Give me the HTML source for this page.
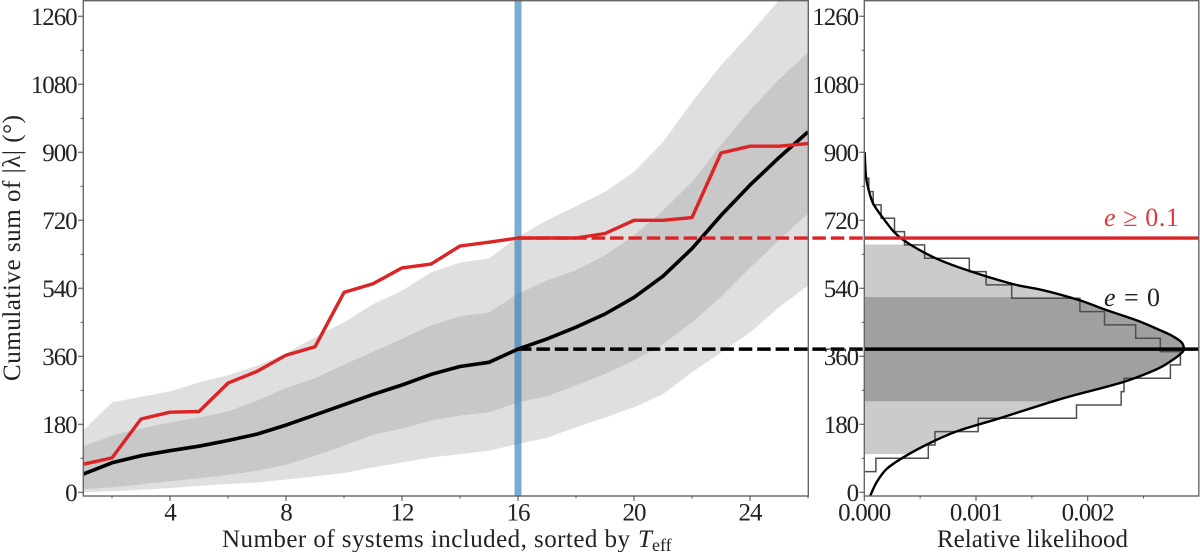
<!DOCTYPE html>
<html lang="en">
<head>
<meta charset="utf-8">
<title>Cumulative sum of lambda chart</title>
<style>
html,body{margin:0;padding:0;background:#fff;width:1200px;height:552px;overflow:hidden}
svg{display:block}
text{font-family:"Liberation Serif",serif;fill:#222}
</style>
</head>
<body>
<svg id="chart" xmlns="http://www.w3.org/2000/svg" width="1200" height="552" viewBox="0 0 1200 552">
<defs>
<clipPath id="clip-left"><rect x="83" y="1" width="725" height="495"/></clipPath>
<clipPath id="clip-right"><rect x="864" y="1" width="335" height="495"/></clipPath>
</defs>
<g id="left-marks" clip-path="url(#clip-left)"></g>
<g id="connectors"></g>
<g id="right-marks" clip-path="url(#clip-right)"></g>
<g id="axes"></g>
</svg>
<script>
const systems = [1,2,3,4,5,6,7,8,9,10,11,12,13,14,15,16,17,18,19,20,21,22,23,24,25,26];
const redSum = [74,91,194,212,214,289,320,363,385,529,552,594,604,652,662,673,673,673,685,720,720,727,898,916,916,923];
const medianSum = [48,78,97,110,122,137,154,178,205,232,259,284,312,333,344,379,406,437,472,516,572,645,733,813,886,954];
const outerUpper = [163,238,253,267,291,310,335,368,410,450,498,534,582,608,619,676,720,757,795,848,927,1033,1130,1214,1302,1400];
const innerUpper = [122,150,169,185,198,214,243,276,302,338,372,406,442,466,476,525,561,588,627,680,746,821,920,1011,1093,1164];
const innerLower = [8,13,21,29,37,46,57,73,97,124,152,169,190,203,212,238,254,283,313,349,392,450,517,594,667,738];
const outerLower = [0,3,7,11,17,22,26,34,42,51,66,79,92,101,110,128,144,172,198,225,260,318,370,423,490,547];
const selectedSystem = 16;
const redLevel = 673;
const blackLevel = 379;

const histStart = 54.7;
const histBinWidth = 35.3;
const histHeights = [.000104,.000573,.000633,.00102,.0019,.0023,.002325,.00274,.00283,.00265,.00243,.00215,.00193,.00132,.00109,.00094,.00054,.00036,.00027,.00015,.00008,.00004];
const curveValues = [-11.5,26.5,61.8,92.6,127.9,161.5,195.9,240.9,258.5,293,326,348.5,366,379,397,415,428.8,455,484,508,535,552,586,618,656,685,729,764,799,835,901];
const curveLikelihood = [.00005,.00011,.0002,.00035,.00057,.00083,.00121,.00169,.0019,.00233,.00262,.00275,.00283,.00286,.00284,.00275,.00265,.00244,.00215,.00193,.0016,.00132,.00094,.00065,.00041,.00028,.00016,.00008,.00004,.000015,.000003];
const band95 = [101,656];
const band68 = [241,517];

const yTicks = [0,180,360,540,720,900,1080,1260];
const yMinorTicks = [90,270,450,630,810,990,1170];
const xTicks = [4,8,12,16,20,24];
const xMinorTicks = [2,6,10,14,18,22,26];
const likTicks = ["0.000","0.001","0.002"];
const likMinorTicks = [0.0005,0.0015,0.0025];

const xS = v => 83 + (v - 1) * 29;
const yS = v => 492.3 - v * 0.3778;
const xL = v => 864.3 + v * 111700;

const NS = "http://www.w3.org/2000/svg";
function el(parent, tag, attrs, txt) {
  const e = document.createElementNS(NS, tag);
  for (const k in attrs) e.setAttribute(k, attrs[k]);
  if (txt !== undefined) e.textContent = txt;
  parent.appendChild(e);
  return e;
}
const left = document.getElementById("left-marks");
const conn = document.getElementById("connectors");
const right = document.getElementById("right-marks");
const axes = document.getElementById("axes");

function linePts(vals) { return vals.map((v, i) => xS(systems[i]).toFixed(1) + "," + yS(v).toFixed(1)); }
function bandPts(up, lo) { return linePts(up).concat(linePts(lo).reverse()).join(" "); }

const outerBand = el(left, "polygon", {points: bandPts(outerUpper, outerLower), fill: "#dfdfdf"});


const innerBand = el(left, "polygon", {points: bandPts(innerUpper, innerLower), fill: "#c8c8c8"});


const blueLine = el(left, "line", {x1: xS(selectedSystem), x2: xS(selectedSystem), y1: 0, y2: 497, stroke: "#1f77b4", "stroke-opacity": .6, "stroke-width": 7});


const medianLine = el(left, "polyline", {points: linePts(medianSum).join(" "), fill: "none", stroke: "#000", "stroke-width": 3.6, "stroke-linejoin": "round"});


const redLine = el(left, "polyline", {points: linePts(redSum).join(" "), fill: "none", stroke: "#dc2325", "stroke-width": 3.4, "stroke-linejoin": "round"});



const redDash = el(conn, "line", {x1: xS(selectedSystem), x2: 864, y1: yS(redLevel), y2: yS(redLevel), stroke: "#dc2325", "stroke-width": 3.4, "stroke-dasharray": "13.5 4.9"});


const blackDash = el(conn, "line", {x1: xS(selectedSystem), x2: 864, y1: yS(blackLevel), y2: yS(blackLevel), stroke: "#000", "stroke-width": 3.4, "stroke-dasharray": "13.5 4.9"});



function curveAt(v) {
  for (let i = 1; i < curveValues.length; i++) {
    if (v <= curveValues[i]) {
      const t = (v - curveValues[i - 1]) / (curveValues[i] - curveValues[i - 1]);
      return curveLikelihood[i - 1] + t * (curveLikelihood[i] - curveLikelihood[i - 1]);
    }
  }
  return 0;
}
function fillPts(range) {
  const pts = [[0, range[0]], [curveAt(range[0]), range[0]]];
  curveValues.forEach((v, i) => { if (v > range[0] && v < range[1]) pts.push([curveLikelihood[i], v]); });
  pts.push([curveAt(range[1]), range[1]], [0, range[1]]);
  return pts.map(p => xL(p[0]).toFixed(1) + "," + yS(p[1]).toFixed(1)).join(" ");
}
const fill95 = el(right, "polygon", {points: fillPts(band95), fill: "#cbcbcb"});


const fill68 = el(right, "polygon", {points: fillPts(band68), fill: "#a0a0a0"});



let histPath = "M" + xL(0) + " " + yS(histStart);
histHeights.forEach((h, i) => {
  histPath += " H" + xL(h).toFixed(1) + " V" + yS(histStart + (i + 1) * histBinWidth).toFixed(1);
});
histPath += " H" + xL(0);
const hist = el(right, "path", {d: histPath, fill: "none", stroke: "#4f4f4f", "stroke-width": 1.5});



const curveXY = curveValues.map((v, i) => [xL(curveLikelihood[i]), yS(v)]);
let curvePath = "M" + curveXY[0][0].toFixed(1) + " " + curveXY[0][1].toFixed(1);
for (let i = 0; i < curveXY.length - 1; i++) {
  const p0 = curveXY[Math.max(i - 1, 0)], p1 = curveXY[i], p2 = curveXY[i + 1], p3 = curveXY[Math.min(i + 2, curveXY.length - 1)];
  curvePath += " C" + (p1[0] + (p2[0] - p0[0]) / 6).toFixed(1) + " " + (p1[1] + (p2[1] - p0[1]) / 6).toFixed(1) + " " +
    (p2[0] - (p3[0] - p1[0]) / 6).toFixed(1) + " " + (p2[1] - (p3[1] - p1[1]) / 6).toFixed(1) + " " +
    p2[0].toFixed(1) + " " + p2[1].toFixed(1);
}
const curve = el(right, "path", {d: curvePath, fill: "none", stroke: "#000", "stroke-width": 2.4, "stroke-linejoin": "round"});



const redH = el(right, "line", {x1: 864, x2: 1200, y1: yS(redLevel), y2: yS(redLevel), stroke: "#dc2325", "stroke-width": 3.4});


const blackH = el(right, "line", {x1: 864, x2: 1200, y1: yS(blackLevel), y2: yS(blackLevel), stroke: "#000", "stroke-width": 3.4});



const leftFrame = el(axes, "rect", {x: 83.3, y: 0.7, width: 725, height: 495.3, fill: "none", stroke: "#666", "stroke-width": 1.4});


const rightFrame = el(axes, "rect", {x: 864.3, y: 0.7, width: 334.5, height: 495.3, fill: "none", stroke: "#666", "stroke-width": 1.4});



[[83, 76.5], [864.3, 858]].forEach(([ax, tx], panel) => {
  yTicks.forEach(v => {
    const t = el(axes, "line", {x1: ax - 5, x2: ax, y1: yS(v), y2: yS(v), stroke: "#555", "stroke-width": 1.1});
    
    
    const l = el(axes, "text", {x: tx, y: yS(v) + 8.8, "font-size": 25, "letter-spacing": -1.1, "text-anchor": "end"}, String(v));
    
    
  });
  yMinorTicks.forEach(v => {
    const t = el(axes, "line", {x1: ax - 2.5, x2: ax, y1: yS(v), y2: yS(v), stroke: "#555", "stroke-width": 1});
    
    
  });
});
xTicks.forEach(v => {
  const t = el(axes, "line", {x1: xS(v), x2: xS(v), y1: 496, y2: 501, stroke: "#555", "stroke-width": 1.1});
  
  
  const l = el(axes, "text", {x: xS(v), y: 520.3, "font-size": 25, "letter-spacing": -1, "text-anchor": "middle"}, String(v));
  
  
});
xMinorTicks.forEach(v => {
  const t = el(axes, "line", {x1: xS(v), x2: xS(v), y1: 496, y2: 498.5, stroke: "#555", "stroke-width": 1});
  
  
});
likTicks.forEach(v => {
  const t = el(axes, "line", {x1: xL(+v), x2: xL(+v), y1: 496, y2: 501, stroke: "#555", "stroke-width": 1.1});
  
  
  const l = el(axes, "text", {x: xL(+v), y: 520.3, "font-size": 25, "letter-spacing": -0.8, "text-anchor": "middle"}, v);
  
  
});
likMinorTicks.forEach(v => {
  const t = el(axes, "line", {x1: xL(v), x2: xL(v), y1: 496, y2: 498.5, stroke: "#555", "stroke-width": 1});
  
  
});

const xTitle = el(axes, "text", {x: 222, y: 547, "font-size": 25, textLength: 408, lengthAdjust: "spacing"}, "Number of systems included, sorted by");


const xTitleT = el(axes, "text", {x: 638, y: 547, "font-size": 25, "font-style": "italic"}, "T");


const xTitleSub = el(axes, "text", {x: 652, y: 551, "font-size": 18}, "eff");


const yTitle = el(axes, "text", {transform: "translate(20,381) rotate(-90)", x: 0, y: 0, "font-size": 25, textLength: 266, lengthAdjust: "spacing"}, "Cumulative sum of |λ| (°)");


const likTitle = el(axes, "text", {x: 937, y: 547, "font-size": 25, textLength: 191, lengthAdjust: "spacing"}, "Relative likelihood");



const redLabel = el(axes, "text", {x: 1104, y: 226, "font-size": 26, style: "fill:#e0393b", textLength: 75, lengthAdjust: "spacing"});


el(redLabel, "tspan", {"font-style": "italic"}, "e");
el(redLabel, "tspan", {}, " ≥ 0.1");
const blackLabel = el(axes, "text", {x: 1104, y: 306, "font-size": 26, textLength: 56, lengthAdjust: "spacing"});


el(blackLabel, "tspan", {"font-style": "italic"}, "e");
el(blackLabel, "tspan", {}, " = 0");
</script>
</body>
</html>
